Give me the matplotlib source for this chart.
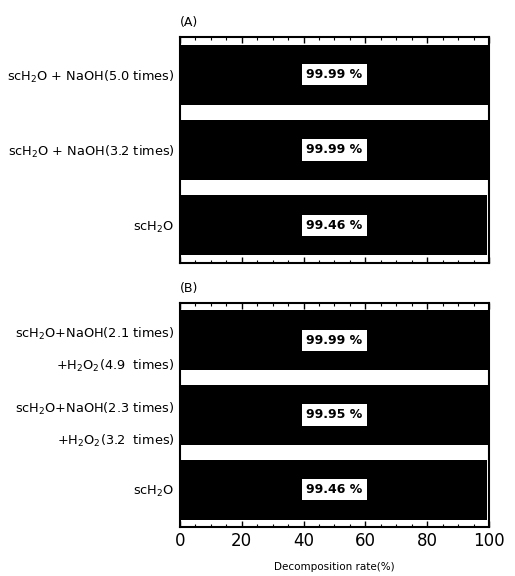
import matplotlib.pyplot as plt
from matplotlib.ticker import MultipleLocator

# panel A
labels_a = ["scH$_2$O", "scH$_2$O + NaOH(3.2 times)", "scH$_2$O + NaOH(5.0 times)"]
rates_a = [99.46, 99.99, 99.99]
# panel B
labels_b = ["scH$_2$O",
            "scH$_2$O+NaOH(2.3 times)\n+H$_2$O$_2$(3.2  times)",
            "scH$_2$O+NaOH(2.1 times)\n+H$_2$O$_2$(4.9  times)"]
rates_b = [99.46, 99.95, 99.99]
ticks = [0, 20, 40, 60, 80, 100]

plt.rcParams['font.family'] = ['DejaVu Sans']
plt.rcParams['mathtext.fontset'] = 'dejavusans'

fig = plt.figure(figsize=(5.15, 5.76), dpi=100)
ax_a = fig.add_axes([0.3495, 0.5434, 0.600, 0.3924])
ax_b = fig.add_axes([0.3495, 0.0851, 0.600, 0.3890])


def draw(ax, labels, rates, tag, bottom):
    y = range(len(rates))
    ax.barh(y, rates, height=0.8, color='black')
    for yi, r in zip(y, rates):
        ax.text(50, yi, f"{r:.2f} %", ha='center', va='center', fontsize=9,
                fontweight='bold', color='black',
                bbox=dict(facecolor='white', edgecolor='none', pad=3))
    ax.set_xlim(0, 100)
    ax.set_ylim(-0.5, len(rates) - 0.5)
    ax.set_yticks(list(y))
    ax.set_yticklabels(labels, fontsize=9.3, ha='right', linespacing=2.3)
    ax.tick_params(axis='y', length=0, pad=4)
    ax.xaxis.set_major_locator(MultipleLocator(20))
    ax.xaxis.set_minor_locator(MultipleLocator(5))
    ax.tick_params(axis='x', which='both', direction='in', top=True, bottom=True)
    ax.tick_params(axis='x', which='major', length=4, width=1)
    ax.tick_params(axis='x', which='minor', length=2, width=0.8)
    for s in ax.spines.values():
        s.set_linewidth(1.5)
    ax.text(0, 1.035, tag, transform=ax.transAxes, fontsize=9, ha='left', va='bottom')
    if bottom:
        ax.set_xticks(ticks)
        ax.set_xticklabels([str(t) for t in ticks], fontsize=12)
        ax.set_xlabel("Decomposition rate(%)", fontsize=7.5, labelpad=9)
    else:
        ax.set_xticklabels([])


draw(ax_a, labels_a, rates_a, "(A)", False)
draw(ax_b, labels_b, rates_b, "(B)", True)

fig.savefig("out.png", dpi=100)
